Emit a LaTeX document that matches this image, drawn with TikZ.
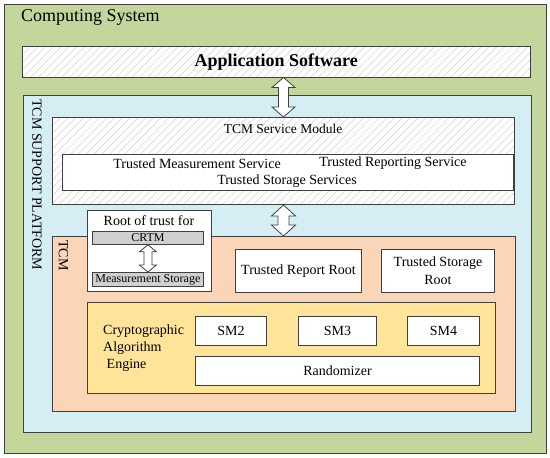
\documentclass[tikz,border=0pt]{standalone}
\usepackage{fontspec}
\setmainfont{Liberation Serif}
\usetikzlibrary{patterns.meta,calc}
\definecolor{cgreen}{HTML}{C3D69B}
\definecolor{cblue}{HTML}{D5EEF4}
\definecolor{corange}{HTML}{FBD5B7}
\definecolor{cyellow}{HTML}{FFE49A}
\definecolor{cgray}{HTML}{D0D0D0}
\definecolor{cline}{HTML}{404040}
\tikzset{
  rect/.style={draw=cline, line width=1pt, inner sep=0pt, anchor=north west, font=\fontsize{14}{16.8}\selectfont},
  hatched/.style={rect, preaction={fill=white}, pattern={Lines[angle=45,distance=5.5pt,line width=0.5pt]}, pattern color=black!18},
  whitebox/.style={rect, fill=white},
  graybox/.style={rect, fill=cgray, line width=0.8pt, font=\fontsize{12}{14}\selectfont},
  lbl/.style={inner sep=0pt, font=\fontsize{14}{16.8}\selectfont},
  blockarrow/.style={draw=cline, fill=white, line width=0.8pt, line join=miter},
}
% #1 top point, #2 bottom point, #3 shaft half width, #4 head half width, #5 head length
\newcommand\dblblock[5]{%
  \draw[blockarrow] let \p1=#1, \p2=#2 in
    (\x1,\y1) -- (\x1+#4,\y1-#5) -- (\x1+#3,\y1-#5) -- (\x1+#3,\y2+#5) -- (\x1+#4,\y2+#5)
    -- (\x1,\y2) -- (\x1-#4,\y2+#5) -- (\x1-#3,\y2+#5) -- (\x1-#3,\y1-#5) -- (\x1-#4,\y1-#5) -- cycle;}
\begin{document}
\begin{tikzpicture}[x=1pt,y=-1pt]
\useasboundingbox (0,0) rectangle (550,458);
% outer
\node[rect, fill=cgreen, line width=1.2pt, minimum width=542pt, minimum height=449pt] (outer) at (4,4) {};
\node[lbl, anchor=west, font=\fontsize{18}{21}\selectfont] (cs) at (21,17) {Computing System};
% application software
\node[hatched, minimum width=508pt, minimum height=31pt, font=\fontsize{18}{21}\selectfont\bfseries] (app) at (22,46) {Application Software};
% support platform
\node[rect, fill=cblue, minimum width=508pt, minimum height=337pt] (plat) at (23,95) {};
\node[lbl, rotate=-90, anchor=west] (platlbl) at (37,99) {TCM SUPPORT PLATFORM};
% service module
\node[hatched, minimum width=462pt, minimum height=87pt] (svc) at (52,117) {};
\node[lbl, font=\fontsize{13.5}{16}\selectfont] (svclbl) at (283,128.5) {TCM Service Module};
\node[whitebox, minimum width=451pt, minimum height=36pt] (srv) at (62,154) {};
\node[lbl] (tms) at (197,163.5) {Trusted Measurement Service};
\node[lbl] (trs) at (393,163.5) {Trusted Reporting Service};
\node[lbl] (tss) at (287,181) {Trusted Storage Services};
% TCM
\node[rect, fill=corange, minimum width=463pt, minimum height=175pt] (tcm) at (52,236) {};
\node[lbl, rotate=-90, anchor=west] (tcmlbl) at (63.5,240) {TCM};
% root of trust
\node[whitebox, minimum width=124pt, minimum height=81pt] (root) at (87,210) {};
\node[lbl] (rootlbl) at (149,221) {Root of trust for};
\node[graybox, minimum width=111pt, minimum height=13pt] (crtm) at (92,231) {CRTM};
\node[graybox, minimum width=111pt, minimum height=14pt] (ms) at (92,272) {Measurement Storage};
\dblblock{(crtm.south)}{(ms.north)}{4pt}{8.5pt}{7pt}
% roots
\node[whitebox, minimum width=126pt, minimum height=43pt] (trr) at (235,249) {Trusted Report Root};
\node[whitebox, minimum width=113pt, minimum height=43pt, align=center, font=\fontsize{14}{18}\selectfont] (tsr) at (381,249) {Trusted Storage\\Root};
% crypto engine
\node[rect, fill=cyellow, minimum width=408pt, minimum height=91pt] (cae) at (87,302) {};
\node[lbl, anchor=west, align=left] (caelbl) at (103,348) {Cryptographic\\Algorithm\\\ Engine};
\node[whitebox, minimum width=71pt, minimum height=29pt] (sm2) at (195,316) {SM2};
\node[whitebox, minimum width=78pt, minimum height=29pt] (sm3) at (298,316) {SM3};
\node[whitebox, minimum width=72pt, minimum height=29pt] (sm4) at (407,316) {SM4};
\node[whitebox, minimum width=284pt, minimum height=29pt] (rnd) at (195,356) {Randomizer};
% block arrows
\dblblock{(svc.north |- app.south)}{(svc.north)}{5pt}{11.5pt}{10pt}
\dblblock{(svc.south)}{(tcm.north)}{5.5pt}{12pt}{11pt}
\end{tikzpicture}
\end{document}
